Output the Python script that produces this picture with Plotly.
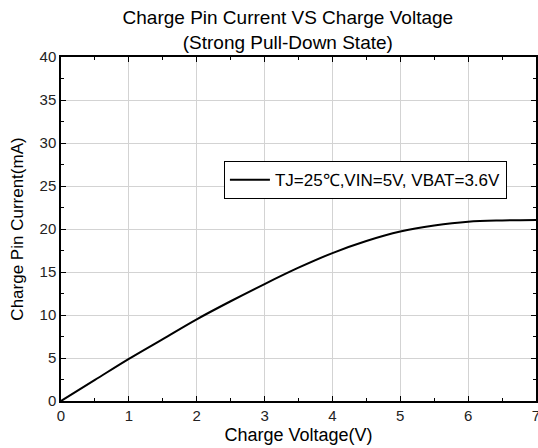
import plotly.graph_objects as go

voltage = [0, 0.5, 1, 1.5, 2, 2.5, 3, 3.5, 4, 4.5, 5, 5.5, 6, 6.5, 7]
current = [0, 2.45, 4.9, 7.2, 9.5, 11.6, 13.6, 15.5, 17.2, 18.6, 19.7, 20.4, 20.85, 21.0, 21.05]
series_name = "TJ=25℃,VIN=5V, VBAT=3.6V"
x_ticks = [0, 1, 2, 3, 4, 5, 6, 7]
y_ticks = [0, 5, 10, 15, 20, 25, 30, 35, 40]

FONT = "Liberation Sans, Arial"

fig = go.Figure()
fig.add_trace(go.Scatter(x=voltage, y=current, mode="lines", name=series_name,
                         line=dict(color="black", width=2, shape="spline"),
                         showlegend=True))

axis_common = dict(
    showline=True, linecolor="black", linewidth=1.5, mirror="allticks",
    ticks="inside", ticklen=5, tickwidth=1, tickcolor="black",
    showgrid=True, gridcolor="#d3d3d3", gridwidth=1, zeroline=False,
    automargin=False, ticklabeloverflow="allow",
    tickfont=dict(family=FONT, size=15, color="#222"),
)

fig.update_xaxes(range=[0, 7], tickvals=x_ticks,
                 minor=dict(dtick=0.5, ticks="inside", ticklen=3, tickcolor="black", showgrid=False),
                 title=dict(text="Charge Voltage(V)", font=dict(family=FONT, size=18, color="black"), standoff=6),
                 **axis_common)
fig.update_yaxes(range=[0, 40], tickvals=y_ticks,
                 minor=dict(dtick=2.5, ticks="inside", ticklen=3, tickcolor="black", showgrid=False),
                 title=dict(text="Charge Pin Current(mA)", font=dict(family=FONT, size=17, color="black"), standoff=12),
                 **axis_common)

fig.update_layout(
    width=538, height=448,
    margin=dict(l=61, r=2, t=57, b=47),
    paper_bgcolor="white", plot_bgcolor="white",
    title=dict(text="Charge Pin Current VS Charge Voltage<br>(Strong Pull-Down State)",
               x=0.535, xanchor="center", y=0.946, yanchor="top",
               font=dict(family=FONT, size=19, color="black")),
    legend=dict(x=0.343, y=0.642, xanchor="left", yanchor="middle",
                bordercolor="black", borderwidth=1, bgcolor="white",
                font=dict(family=FONT, size=17, color="black"),
                itemwidth=40, tracegroupgap=0),
)

fig.write_html("out.html", post_script="document.body.style.margin='0';",
               config={"displayModeBar": False})
